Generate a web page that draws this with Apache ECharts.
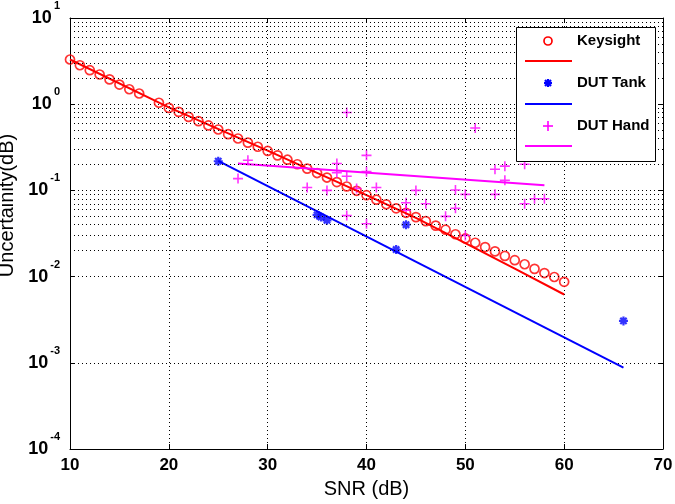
<!DOCTYPE html>
<html><head><meta charset="utf-8">
<script src="https://cdn.jsdelivr.net/npm/echarts@6/dist/echarts.min.js"></script>
<style>html,body{margin:0;padding:0;background:#fff}#c{width:675px;height:504px}</style>
</head><body><div id="c"></div>
<script>
// ---- data ----
const keysightSNR = [10,11,12,13,14,15,16,17,19,20,21,22,23,24,25,26,27,28,29,30,31,32,33,34,35,36,37,38,39,40,41,42,43,44,45,46,47,48,49,50,51,52,53,54,55,56,57,58,59,60];
const keysightU = [3.30,2.83,2.48,2.21,1.94,1.69,1.49,1.33,1.04,0.906,0.814,0.713,0.635,0.567,0.509,0.449,0.400,0.358,0.321,0.287,0.255,0.227,0.201,0.179,0.159,0.141,0.125,0.111,0.099,0.088,0.078,0.069,0.062,0.055,0.049,0.044,0.039,0.035,0.031,0.0277,0.0247,0.0220,0.0196,0.0174,0.0155,0.0139,0.0123,0.0110,0.0099,0.0087];
const keysightFitSNR = [10,20,30,40,45,50,55,60];
const keysightFitU = [3.3,0.92,0.29,0.088,0.048,0.0245,0.0124,0.0062];

const tankSNR = [25,35,35.4,36,43,44,66];
const tankU = [0.218,0.052,0.049,0.045,0.0206,0.040,0.00306];
const tankFitSNR = [25,66];
const tankFitU = [0.22,0.00088];

const handSNR = [27,28,34,36,37,37,38,38,38,39,40,40,40,41,44,44,45,46,48,49,49,50,50,51,53,53,54,54,56,56,57,58];
const handU = [0.137,0.224,0.108,0.100,0.205,0.160,0.80,0.146,0.051,0.105,0.255,0.165,0.041,0.108,0.072,0.059,0.100,0.070,0.050,0.101,0.062,0.090,0.030,0.53,0.176,0.090,0.191,0.131,0.201,0.070,0.080,0.080];
const handFitSNR = [27,58];
const handFitU = [0.205,0.115];

const legendNames = ['Keysight','DUT Tank','DUT Hand'];
const xAxisName = 'SNR (dB)';
const yAxisName = 'Uncertainity(dB)';

// ---- helpers ----
const pairs = (xs, ys) => xs.map((x, i) => [x, ys[i]]);
const minorGrid = [];
for (let e = -4; e <= 0; e++) for (let k = 2; k <= 9; k++) minorGrid.push({ yAxis: k * Math.pow(10, e) });

const FONT = '"Liberation Sans", Arial, sans-serif';
const dotted = { color: '#000', width: 1, type: [1, 3] };
const STAR = 'path://M5,0L5,10M0,5L10,5M1.5,1.5L8.5,8.5M8.5,1.5L1.5,8.5';
const PLUS = 'path://M5,0L5,10M0,5L10,5';

const chart = echarts.init(document.getElementById('c'), null, { renderer: 'canvas' });
const yLabel = v => '{b|10}{s|' + Math.round(Math.log10(v)) + '}';

const lx = 525, lx2 = 572, mx = 548, tx = 577;
chart.setOption({
  animation: false,
  backgroundColor: '#fff',
  grid: { left: 70, right: 12, top: 18, bottom: 55, containLabel: false, outerBoundsMode: 'none' },
  xAxis: [{
    type: 'value', min: 10, max: 70, interval: 10,
    name: xAxisName, nameLocation: 'middle', nameGap: 30,
    nameTextStyle: { fontFamily: FONT, fontSize: 20, color: '#000' },
    axisLine: { lineStyle: { color: '#000', width: 1 } },
    axisTick: { inside: true, length: 5, lineStyle: { color: '#000' } },
    axisLabel: { fontFamily: FONT, fontWeight: 'bold', fontSize: 17, color: '#000', margin: 8 },
    splitLine: { show: true, lineStyle: dotted }
  }, {
    type: 'value', min: 10, max: 70, interval: 10, position: 'top',
    axisLine: { show: true, lineStyle: { color: '#000', width: 1 } },
    axisTick: { inside: true, length: 5, lineStyle: { color: '#000' } },
    axisLabel: { show: false }, splitLine: { show: false }
  }],
  yAxis: [{
    type: 'log', logBase: 10, min: 0.0001, max: 10,
    name: yAxisName, nameLocation: 'middle', nameGap: 52, nameRotate: 90,
    nameTextStyle: { fontFamily: FONT, fontSize: 20, color: '#000', padding: [0, 0, 0, 56] },
    axisLine: { show: true, lineStyle: { color: '#000', width: 1 } },
    axisTick: { inside: true, length: 5, lineStyle: { color: '#000' } },
    axisLabel: {
      formatter: yLabel, margin: 10,
      rich: {
        b: { fontFamily: FONT, fontWeight: 'bold', fontSize: 18, color: '#000', verticalAlign: 'middle' },
        s: { fontFamily: FONT, fontWeight: 'bold', fontSize: 11, color: '#000', verticalAlign: 'middle', padding: [0, 0, 24, 2] }
      }
    },
    splitLine: { show: true, lineStyle: dotted }
  }, {
    type: 'log', logBase: 10, min: 0.0001, max: 10, position: 'right',
    axisLine: { show: true, lineStyle: { color: '#000', width: 1 } },
    axisTick: { inside: true, length: 5, lineStyle: { color: '#000' } },
    axisLabel: { show: false }, splitLine: { show: false }
  }],
  series: [
    { type: 'line', name: 'minor grid', data: [], z: 1, silent: true,
      markLine: { silent: true, symbol: 'none', label: { show: false }, lineStyle: dotted, data: minorGrid, animation: false } },
    { type: 'scatter', name: legendNames[0], data: pairs(keysightSNR, keysightU), symbol: 'circle', symbolSize: 9, z: 3,
      itemStyle: { color: 'rgba(0,0,0,0)', borderColor: '#ff0000', borderWidth: 1.7 } },
    { type: 'line', name: legendNames[0] + ' fit', data: pairs(keysightFitSNR, keysightFitU), showSymbol: false, z: 4,
      lineStyle: { color: '#ff0000', width: 2 } },
    { type: 'scatter', name: legendNames[1], data: pairs(tankSNR, tankU), symbol: STAR, symbolSize: 9, z: 3,
      itemStyle: { color: '#0000ff', borderColor: '#0000ff', borderWidth: 2.2 } },
    { type: 'line', name: legendNames[1] + ' fit', data: pairs(tankFitSNR, tankFitU), showSymbol: false, z: 4,
      lineStyle: { color: '#0000ff', width: 2 } },
    { type: 'scatter', name: legendNames[2], data: pairs(handSNR, handU), symbol: PLUS, symbolSize: 10, z: 3,
      itemStyle: { color: '#ff00ff', borderColor: '#ff00ff', borderWidth: 1.6 } },
    { type: 'line', name: legendNames[2] + ' fit', data: pairs(handFitSNR, handFitU), showSymbol: false, z: 4,
      lineStyle: { color: '#ff00ff', width: 2 } }
  ],
  graphic: [
    { type: 'rect', shape: { x: 516.5, y: 27.5, width: 139, height: 134 }, style: { fill: '#fff', stroke: '#000', lineWidth: 1 }, z: 100 },
    { type: 'circle', shape: { cx: mx, cy: 41, r: 4 }, style: { fill: 'none', stroke: '#ff0000', lineWidth: 1.7 }, z: 101 },
    { type: 'text', x: tx, y: 41, style: { text: legendNames[0], font: 'bold 15px ' + FONT, fill: '#000', verticalAlign: 'middle' }, z: 101 },
    { type: 'line', shape: { x1: lx, y1: 61, x2: lx2, y2: 61 }, style: { stroke: '#ff0000', lineWidth: 2 }, z: 101 },
    { type: 'line', shape: { x1: mx, y1: 79, x2: mx, y2: 87 }, style: { stroke: '#0000ff', lineWidth: 2.2 }, z: 101 },
    { type: 'line', shape: { x1: mx - 4, y1: 83, x2: mx + 4, y2: 83 }, style: { stroke: '#0000ff', lineWidth: 2.2 }, z: 101 },
    { type: 'line', shape: { x1: mx - 3, y1: 80, x2: mx + 3, y2: 86 }, style: { stroke: '#0000ff', lineWidth: 2.2 }, z: 101 },
    { type: 'line', shape: { x1: mx + 3, y1: 80, x2: mx - 3, y2: 86 }, style: { stroke: '#0000ff', lineWidth: 2.2 }, z: 101 },
    { type: 'text', x: tx, y: 83, style: { text: legendNames[1], font: 'bold 15px ' + FONT, fill: '#000', verticalAlign: 'middle' }, z: 101 },
    { type: 'line', shape: { x1: lx, y1: 104, x2: lx2, y2: 104 }, style: { stroke: '#0000ff', lineWidth: 2 }, z: 101 },
    { type: 'line', shape: { x1: mx, y1: 121, x2: mx, y2: 131 }, style: { stroke: '#ff00ff', lineWidth: 1.6 }, z: 101 },
    { type: 'line', shape: { x1: mx - 5, y1: 126, x2: mx + 5, y2: 126 }, style: { stroke: '#ff00ff', lineWidth: 1.6 }, z: 101 },
    { type: 'text', x: tx, y: 126, style: { text: legendNames[2], font: 'bold 15px ' + FONT, fill: '#000', verticalAlign: 'middle' }, z: 101 },
    { type: 'line', shape: { x1: lx, y1: 146, x2: lx2, y2: 146 }, style: { stroke: '#ff00ff', lineWidth: 2 }, z: 101 }
  ]
});
</script>
</body></html>
